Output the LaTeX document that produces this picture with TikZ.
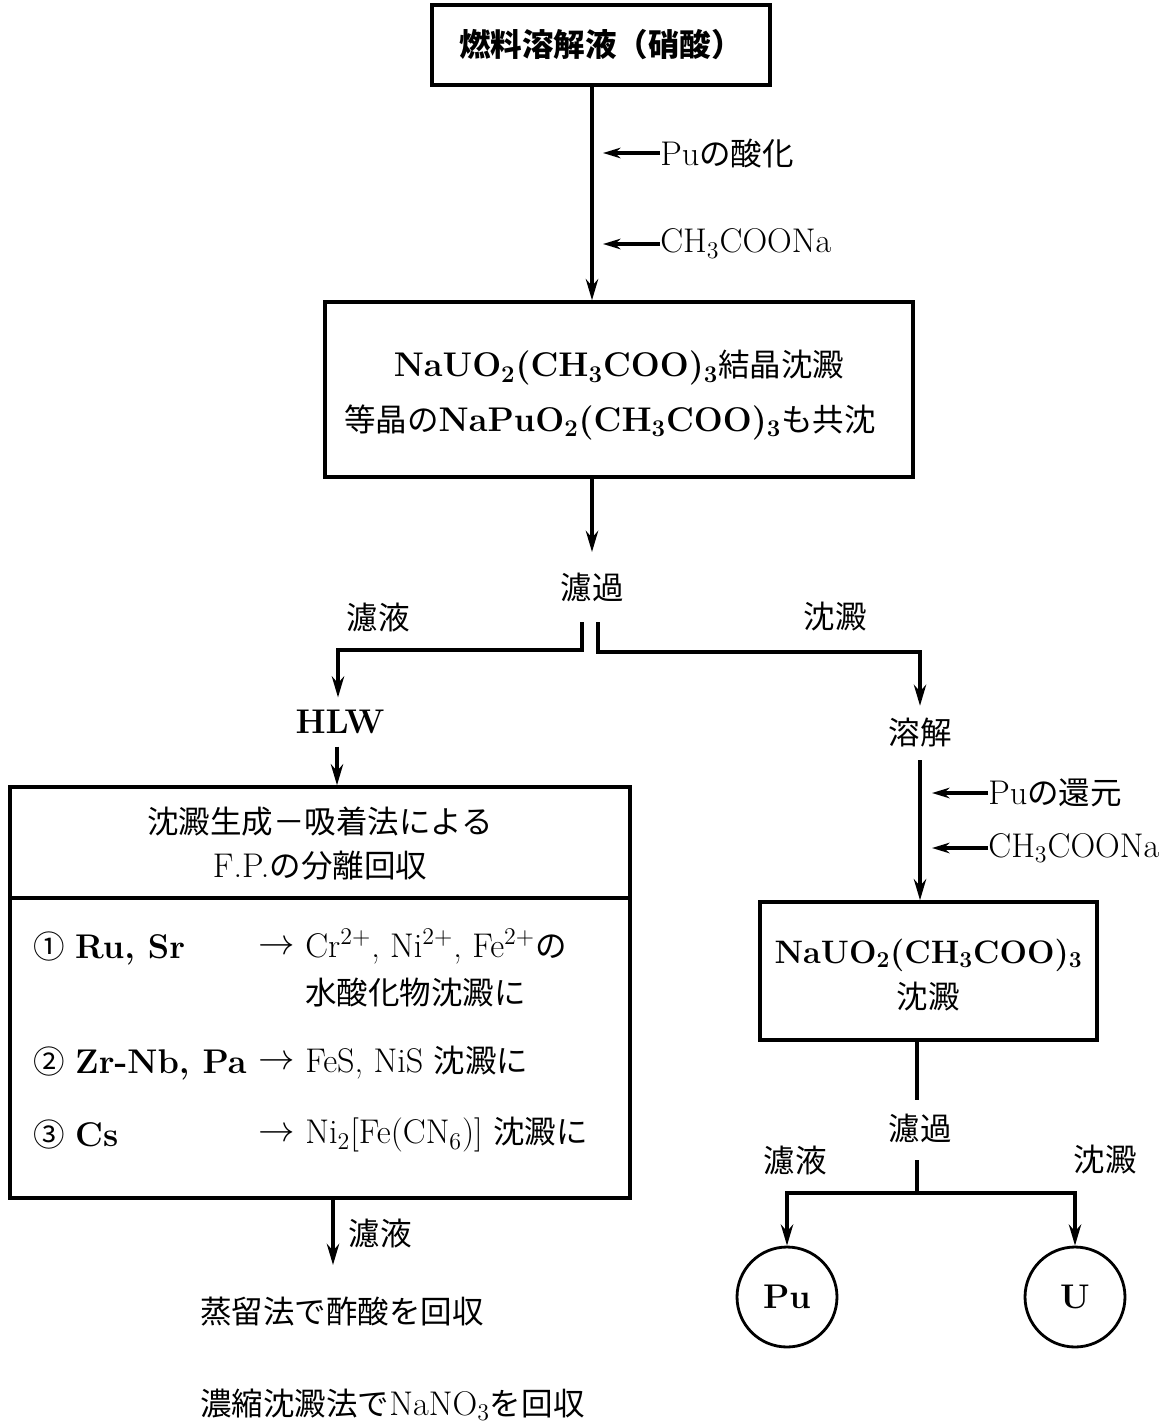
\documentclass[tikz,border=0pt]{standalone}
\usepackage{fontspec}
\newfontfamily\cjk[Scale=0.92]{Noto Sans CJK JP}
\usetikzlibrary{arrows.meta}
\newcommand{\J}[1]{{\cjk\mdseries #1}}
\newcommand{\JB}[1]{{\cjk\bfseries #1}}
\newcommand{\sbs}[1]{\textsubscript{#1}}
\newcommand{\sps}[1]{\textsuperscript{#1}}
\tikzset{
  every node/.style={font=\fontsize{19.5}{24}\selectfont, inner sep=0pt},
  boxs/.style={draw, line width=2pt, inner sep=0pt, align=center},
  ln/.style={line width=2pt},
  arr/.style={line width=2pt, -{Stealth[length=12pt,width=7pt]}},
  sarr/.style={line width=1.8pt, -{Stealth[length=10pt,width=6pt]}},
  lbl/.style={anchor=west},
  circ/.style={draw, circle, line width=1.6pt, minimum size=2cm},
}
\begin{document}
\begin{tikzpicture}[x=0.02cm, y=-0.02cm]
\useasboundingbox (0,0) rectangle (1175,1426);

% ---- top box
\node[boxs, minimum width=6.76cm, minimum height=1.6cm] (n1) at (601,45)
  {\JB{燃料溶解液（硝酸）}};
\coordinate (c1) at (592,0);

% ---- box 2
\node[boxs, minimum width=11.76cm, minimum height=3.5cm] (n2) at (619,389.5) {};
\node (n2a) at (619,368) {\textbf{NaUO\sbs{2}(CH\sbs{3}COO)\sbs{3}}\J{結晶沈澱}};
\node (n2b) at (610,422) {\J{等晶の}\textbf{NaPuO\sbs{2}(CH\sbs{3}COO)\sbs{3}}\J{も共沈}};

\draw[arr] (n1.south -| c1) -- (n2.north -| c1);

% side inputs
\node[lbl] (p1) at (660,153) {Pu\J{の酸化}};
\coordinate (a1) at (603,153);
\draw[sarr] (p1.west) -- (a1);
\node[lbl] (p2) at (660,244) {CH\sbs{3}COONa};
\coordinate (a2) at (603,244);
\draw[sarr] (p2.west) -- (a2);

% ---- filtration
\node (f1) at (592,587) {\J{濾過}};
\coordinate (f1top) at (592,552);
\draw[arr] (n2.south -| c1) -- (f1top);
\coordinate (sL) at (582,622);
\coordinate (sR) at (598,622);
\coordinate (kL) at (582,650);
\coordinate (kR) at (598,652);
\node (fl1) at (378,617) {\J{濾液}};
\node (fs1) at (835,617) {\J{沈澱}};

\node (hlw) at (340,722) {\bfseries HLW};
\node (dis) at (920,733) {\J{溶解}};
\coordinate (hL) at (338,0);
\coordinate (dR) at (920,0);
\draw[arr] (sL) -- (kL) -- (kL -| hL) -- ([yshift=7pt]hlw.north -| hL);
\draw[arr] (sR) -- (kR) -- (kR -| dR) -- ([yshift=7pt]dis.north -| dR);

% ---- left big box
\node[boxs, minimum width=12.4cm, minimum height=8.22cm] (lb) at (320,992.5) {};
\coordinate (dv) at (0,898);
\draw[ln] (lb.west |- dv) -- (lb.east |- dv);
\node (h1) at (320,822) {\J{沈澱生成－吸着法による}};
\node (h2) at (320,866) {F.P.\J{の分離回収}};
\coordinate (hx) at (337,0);
\draw[arr] ([yshift=-7pt]hlw.south -| hx) -- (lb.north -| hx);

\node[lbl] (i1) at (33,948) {\J{①} \textbf{Ru, Sr}};
\node[lbl] (r1) at (258,948) {$\rightarrow$};
\node[lbl] (t1) at (305,946) {Cr\sps{2+}, Ni\sps{2+}, Fe\sps{2+}\J{の}};
\node[lbl] (t1b) at (305,993) {\J{水酸化物沈澱に}};
\node[lbl] (i2) at (33,1063) {\J{②} \textbf{Zr-Nb, Pa}};
\node[lbl] (r2) at (258,1063) {$\rightarrow$};
\node[lbl] (t2) at (305,1063) {FeS, NiS \J{沈澱に}};
\node[lbl] (i3) at (33,1135) {\J{③} \textbf{Cs}};
\node[lbl] (r3) at (258,1135) {$\rightarrow$};
\node[lbl] (t3) at (305,1135) {Ni\sbs{2}[Fe(CN\sbs{6})] \J{沈澱に}};

% below left box
\node (fl2) at (380,1233) {\J{濾液}};
\coordinate (e1) at (333,1265);
\draw[arr] (lb.south -| e1) -- (e1);
\node[lbl] (o1) at (200,1312) {\J{蒸留法で酢酸を回収}};
\node[lbl] (o2) at (200,1405) {\J{濃縮沈澱法で}NaNO\sbs{3}\J{を回収}};

% ---- right branch
\node[boxs, minimum width=6.74cm, minimum height=2.76cm] (rb) at (928.5,971) {};
\node[font=\fontsize{18.5}{22}\selectfont] (rba) at (928.5,955) {\bfseries NaUO\sbs{2}(CH\sbs{3}COO)\sbs{3}};
\node (rbb) at (928.5,997) {\J{沈澱}};
\draw[arr] ([yshift=-7pt]dis.south -| dR) -- (rb.north -| dR);

\node[lbl] (p3) at (988,793) {Pu\J{の還元}};
\coordinate (a3) at (932,793);
\draw[sarr] (p3.west) -- (a3);
\node[lbl] (p4) at (988,848) {CH\sbs{3}COONa};
\coordinate (a4) at (932,848);
\draw[sarr] (p4.west) -- (a4);

\node (f2) at (920,1128) {\J{濾過}};
\coordinate (c2) at (917,0);
\coordinate (g1) at (917,1100);
\coordinate (g2) at (917,1160);
\draw[ln] (rb.south -| c2) -- (g1);
\coordinate (j2) at (917,1193);
\draw[ln] (g2) -- (j2);
\node (fl3) at (795,1160) {\J{濾液}};
\node (fs3) at (1105,1160) {\J{沈澱}};

\node[circ] (pu) at (787,1297) {\bfseries Pu};
\node[circ] (u) at (1075,1297) {\bfseries U};
\draw[arr] (j2) -- (j2 -| pu) -- (pu.north);
\draw[arr] (j2) -- (j2 -| u) -- (u.north);
\end{tikzpicture}
\end{document}
